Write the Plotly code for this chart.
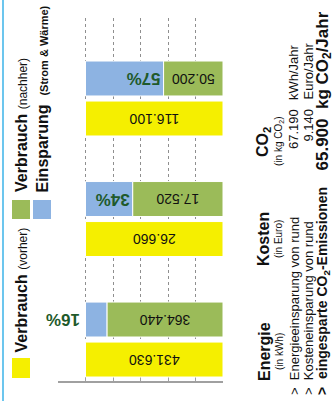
import plotly.graph_objects as go

# Values
categories = ["Energie", "Kosten", "CO2"]
vorher = [431630, 26660, 116100]
nachher = [364440, 17520, 50200]
category_titles = ["Energie", "Kosten", "CO<sub>2</sub>"]
category_units = ["(in kWh)", "(in Euro)", "(in kg CO<sub>2</sub>)"]
summary_labels = ["Energieeinsparung von rund", "Kosteneinsparung von rund",
                  "eingesparte CO<sub>2</sub>-Emissionen"]
summary_values = [67190, 9140, 65900]
summary_units = ["kWh/Jahr", "Euro/Jahr", "kg CO<sub>2</sub>/Jahr"]
grid_values = [0, 20, 40, 60, 80, 100, 120]

YELLOW = "#f5ef00"
GREEN = "#9bbb59"
BLUE = "#8db3e2"
PCT_COLOR = "#1f5a2b"
GRID = "#8f8f8f"
FONT = "Liberation Sans, Arial, sans-serif"

W, H = 333, 401


def px(x):
    return x / W


def py(y):
    return 1 - y / H


def de(n):
    return f"{n:,}".replace(",", ".")


# normalise each group to its "vorher" value
base_pct = [100.0 for _ in vorher]
after_pct = [n / v * 100 for n, v in zip(nachher, vorher)]
saving_pct = [100 - a for a in after_pct]
saving_txt = [f"{round(s)}%" for s in saving_pct]

bar_w = 0.29
common = dict(orientation="h", width=bar_w, marker_line_color="white",
              marker_line_width=1, textangle=180, constraintext="none",
              cliponaxis=False, showlegend=False, hoverinfo="skip")

fig = go.Figure()
fig.add_trace(go.Bar(
    y=categories, x=base_pct, offset=-0.311,
    marker_color=YELLOW, text=[de(v) for v in vorher],
    textposition="inside", insidetextanchor="middle",
    textfont=dict(family=FONT, size=14, color="#111111"), **common))
fig.add_trace(go.Bar(
    y=categories, x=after_pct, offset=0.021,
    marker_color=GREEN, text=[de(v) for v in nachher],
    textposition="inside", insidetextanchor="middle",
    textfont=dict(family=FONT, size=14, color="#111111"), **common))

# savings share: written inside the bar where it fits, beside it otherwise
fits = [s > 25 for s in saving_pct]
fig.add_trace(go.Bar(
    y=categories, x=saving_pct, base=after_pct, offset=0.021,
    marker_color=BLUE, text=[t if f else "" for t, f in zip(saving_txt, fits)],
    textposition="inside", insidetextanchor="start",
    textfont=dict(family=FONT, size=17, color=PCT_COLOR, weight="bold"),
    **common))

fig.update_layout(
    width=W, height=H, margin=dict(l=0, r=0, t=0, b=0),
    paper_bgcolor="white", plot_bgcolor="white", barmode="overlay",
    font=dict(family=FONT, color="#111111"),
    xaxis=dict(domain=[px(58), px(223)], range=[120, 0],
               tickmode="array", tickvals=grid_values,
               showgrid=True, gridcolor=GRID, griddash="3px,3px",
               gridwidth=1, zeroline=False, showline=True,
               linecolor="#a0a0a0", linewidth=1.5, ticks="inside",
               ticklen=5, tickcolor="#a0a0a0", tickwidth=1.2,
               showticklabels=False, fixedrange=True, layer="below traces"),
    yaxis=dict(domain=[py(381), py(18)], type="category",
               categoryorder="array", categoryarray=categories,
               range=[-0.344, 2.668], showgrid=False, zeroline=False,
               showline=False, showticklabels=False, ticks=""),
)

shapes = [
    # left border line
    dict(type="line", xref="paper", yref="paper", x0=px(3), x1=px(3),
         y0=0, y1=1, line=dict(color="#6cc6ee", width=2)),
    # legend swatches
    dict(type="rect", xref="paper", yref="paper", x0=px(12), x1=px(30),
         y0=py(378), y1=py(358), fillcolor=YELLOW, line_width=0),
    dict(type="rect", xref="paper", yref="paper", x0=px(12), x1=px(30),
         y0=py(219), y1=py(200), fillcolor=GREEN, line_width=0),
    dict(type="rect", xref="paper", yref="paper", x0=px(33), x1=px(51),
         y0=py(219), y1=py(200), fillcolor=BLUE, line_width=0),
]
fig.update_layout(shapes=shapes)

ann = []


def rot(text, x, y, yanchor, size, color="#111111"):
    ann.append(dict(text=text, xref="paper", yref="paper", x=px(x), y=py(y),
                    xanchor="center", yanchor=yanchor, textangle=-90,
                    showarrow=False, font=dict(family=FONT, size=size,
                                               color=color)))


# savings share that does not fit inside its bar
for cat, a, s, t, f in zip(categories, after_pct, saving_pct, saving_txt, fits):
    if not f:
        ann.append(dict(text=f"<b>{t}</b>", xref="x", yref="y", x=a + s,
                        y=cat, yshift=20, xanchor="right", yanchor="middle",
                        xshift=-3, textangle=180, showarrow=False,
                        font=dict(family=FONT, size=17, color=PCT_COLOR)))

# legend labels
rot("<b>Verbrauch</b> <span style='font-size:12px'>(vorher)</span>",
    21, 355, "bottom", 16)
rot("<b>Verbrauch</b> <span style='font-size:12px'>(nachher)</span>",
    21, 194, "bottom", 16)
rot("<b>Einsparung</b>  <span style='font-size:11px'><b>(Strom & Wärme)</b></span>",
    42, 194, "bottom", 16)

# category titles below the axis
label_y = [352, 239, 142]
for title, unit, ly in zip(category_titles, category_units, label_y):
    rot(f"<b>{title}</b>", 264, ly, "middle", 16)
    rot(unit, 279, ly, "middle", 10)

# summary lines
sum_x = [294, 308, 323]
for i, (lab, val, unit) in enumerate(zip(summary_labels, summary_values,
                                         summary_units)):
    bold = i == 2
    size = 13 if not bold else 14
    t = f">  {lab}"
    if bold:
        t = f"<b>{t}</b>"
    rot(t, sum_x[i], 397, "bottom", size)
    vtxt = de(val)
    if bold:
        rot(f"<b>{vtxt}  {unit}</b>", sum_x[i], 10, "top", 17)
    else:
        rot(vtxt, sum_x[i], 107, "top", size)
        rot(unit, sum_x[i], 102, "bottom", size)

fig.update_layout(annotations=ann)
fig.write_html("out.html")
